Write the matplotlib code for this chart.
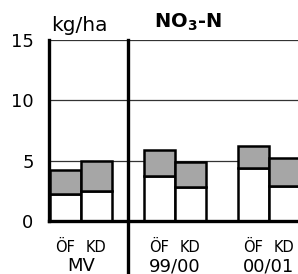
import numpy as np
import matplotlib
matplotlib.use("Agg")
import matplotlib.pyplot as plt

########################################

# Data (kg/ha NO3-N)

groups = ["MV", "99/00", "00/01"]
methods = ["ÖF", "KD"]

# lower (white) part and total height of each stacked bar
lower_of = [2.25, 3.75, 4.4]
total_of = [4.2, 5.85, 6.25]
lower_kd = [2.5, 2.85, 2.9]
total_kd = [5.0, 4.9, 5.2]

y_ticks = [0, 5, 10, 15]

########################################

plt.rcParams["mathtext.fontset"] = "dejavusans"

fig = plt.figure(figsize = (2.98, 2.74), dpi = 100)
ax = fig.add_axes([0.164, 0.193, 0.836, 0.661])

x = np.arange(len(groups))
w = 0.33
gray = "#a6a6a6"

for offset, lower, total in [(-w / 2, lower_of, total_of), (w / 2, lower_kd, total_kd)]:
    lower = np.array(lower)
    upper = np.array(total) - lower
    ax.bar(x + offset, lower, width = w, color = "white", edgecolor = "black", linewidth = 1.8, zorder = 3)
    ax.bar(x + offset, upper, bottom = lower, width = w, color = gray, edgecolor = "black", linewidth = 1.8, zorder = 3)

ax.set_xlim(-0.34, 2.31)
ax.set_ylim(0, 15)
ax.set_yticks(y_ticks)
ax.set_xticks([])

for t in y_ticks[1:]:
    ax.axhline(t, color = "#333333", linewidth = 0.9, zorder = 1)

for side in ["top", "right"]:
    ax.spines[side].set_visible(False)
ax.spines["left"].set_linewidth(2.4)
ax.spines["bottom"].set_linewidth(2.4)
ax.spines["bottom"].set_zorder(4)
ax.tick_params(axis = "y", length = 0, pad = 11, labelsize = 13)

# divider between the MV group and the years, running down past the axis
ax.axvline(0.5, ymin = -0.3, ymax = 1, color = "black", linewidth = 2.4, clip_on = False, zorder = 5)

# labels below the bars
trans = ax.get_xaxis_transform()
for i, g in enumerate(groups):
    ax.text(x[i] - w / 2, -0.171, methods[0], transform = trans, ha = "center", va = "baseline", fontsize = 10.5)
    ax.text(x[i] + w / 2, -0.171, methods[1], transform = trans, ha = "center", va = "baseline", fontsize = 10.5)
    ax.text(x[i], -0.276, g, transform = trans, ha = "center", va = "baseline", fontsize = 13)

ax.text(0.01, 1.05, "kg/ha", transform = ax.transAxes, ha = "left", va = "baseline", fontsize = 14.5)
ax.text(0.558, 1.066, r"$\mathbf{NO_3}$-N", transform = ax.transAxes, ha = "center", va = "baseline",
        fontsize = 14, fontweight = "bold")

plt.savefig("out.png", dpi = 100)
plt.close()
